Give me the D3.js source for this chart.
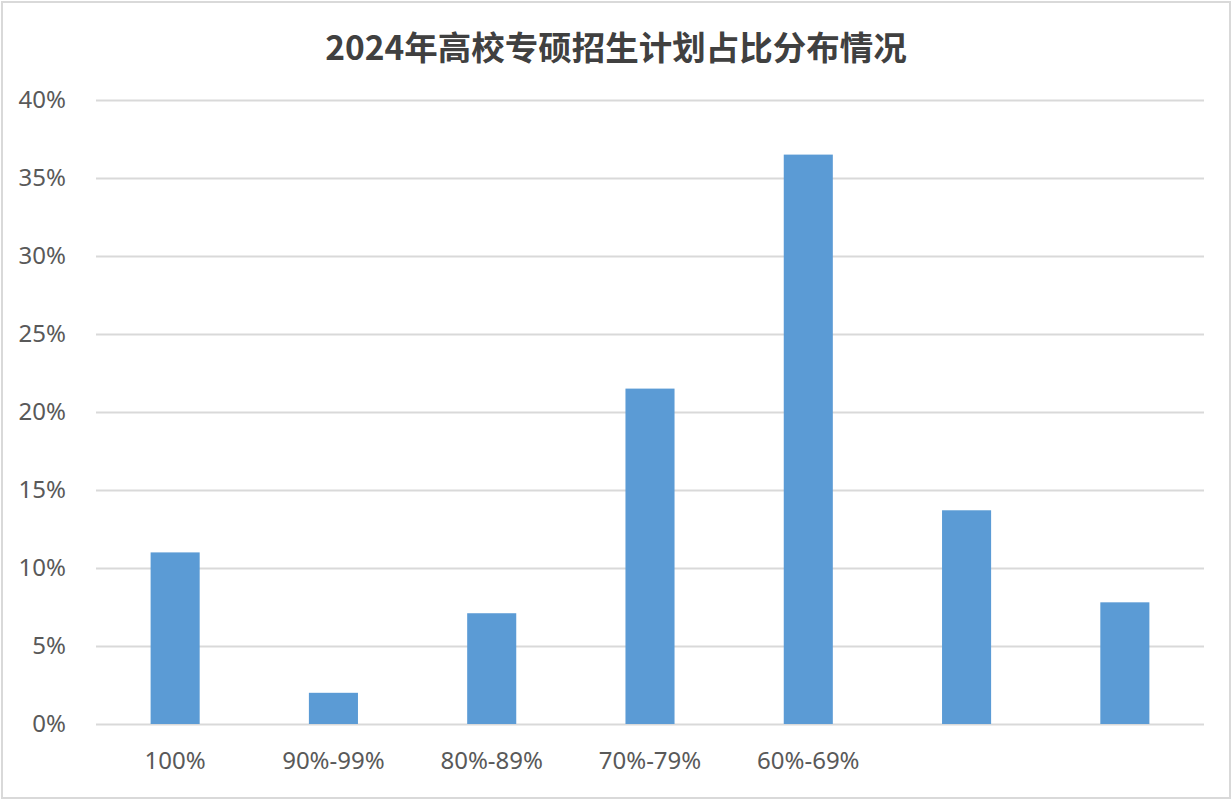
<!DOCTYPE html>
<html>
<head>
<meta charset="utf-8">
<script src="https://cdn.jsdelivr.net/npm/d3@7"></script>
<style>
  body { margin: 0; background: #fff; }
  svg { display: block; }
</style>
</head>
<body>
<div id="chart"></div>
<script>
var w = 1232;
var h = 800;

// data
var categories = ['100%', '90%-99%', '80%-89%', '70%-79%', '60%-69%', 'c6', 'c7'];
var categoryLabels = ['100%', '90%-99%', '80%-89%', '70%-79%', '60%-69%', '', ''];
var shares = [11.0, 2.0, 7.1, 21.5, 36.5, 13.7, 7.8];
var yTicks = [0, 5, 10, 15, 20, 25, 30, 35, 40];
var title = '2024年高校专硕招生计划占比分布情况';

// plot area (window.top is read-only, so not "top")
var plotLeft = 96, plotRight = 1204, plotTop = 100, plotBottom = 724;

var xScale = d3.scaleBand()
  .domain(categories)
  .range([plotLeft, plotRight])
  .paddingInner(0.69)
  .paddingOuter(0.345);

var yScale = d3.scaleLinear()
  .domain([0, 40])
  .range([plotBottom, plotTop]);

var svg = d3.select('#chart')
  .append('svg')
  .attr('width', w)
  .attr('height', h);

// outer frame
svg.append('rect')
  .attr('x', 2).attr('y', 2)
  .attr('width', w - 4).attr('height', h - 4)
  .attr('fill', '#fff')
  .attr('stroke', '#d9d9d9')
  .attr('stroke-width', 2);

// title
svg.append('text')
  .attr('x', w / 2)
  .attr('y', 45)
  .attr('text-anchor', 'middle')
  .attr('dominant-baseline', 'central')
  .attr('font-family', '"Noto Sans CJK SC", "Noto Sans", sans-serif')
  .attr('font-size', 33.5)
  .attr('font-weight', 'bold')
  .attr('fill', '#404040')
  .text(title);

// gridlines + y labels
var yAxis = d3.axisLeft(yScale)
  .tickValues(yTicks)
  .tickSize(-(plotRight - plotLeft))
  .tickPadding(30)
  .tickFormat(function(d) { return d + '%'; });

var gy = svg.append('g')
  .attr('transform', 'translate(' + plotLeft + ',0)')
  .call(yAxis);

gy.select('.domain').remove();
gy.selectAll('.tick line')
  .attr('stroke', '#d9d9d9')
  .attr('stroke-width', 2);
gy.selectAll('.tick text')
  .attr('font-family', '"Noto Sans", sans-serif')
  .attr('font-size', 24)
  .attr('fill', '#595959');

// bars
svg.selectAll('rect.bar')
  .data(shares)
  .enter()
  .append('rect')
  .attr('class', 'bar')
  .attr('x', function(d, i) { return xScale(categories[i]); })
  .attr('y', function(d) { return yScale(d); })
  .attr('width', xScale.bandwidth())
  .attr('height', function(d) { return plotBottom - yScale(d); })
  .attr('fill', '#5b9bd5');

// x labels
var xAxis = d3.axisBottom(xScale)
  .tickSize(0)
  .tickPadding(28)
  .tickFormat(function(d, i) { return categoryLabels[i]; });

var gx = svg.append('g')
  .attr('transform', 'translate(0,' + plotBottom + ')')
  .call(xAxis);

gx.select('.domain').remove();
gx.selectAll('.tick text')
  .attr('font-family', '"Noto Sans", sans-serif')
  .attr('font-size', 24)
  .attr('fill', '#595959');
</script>
</body>
</html>
